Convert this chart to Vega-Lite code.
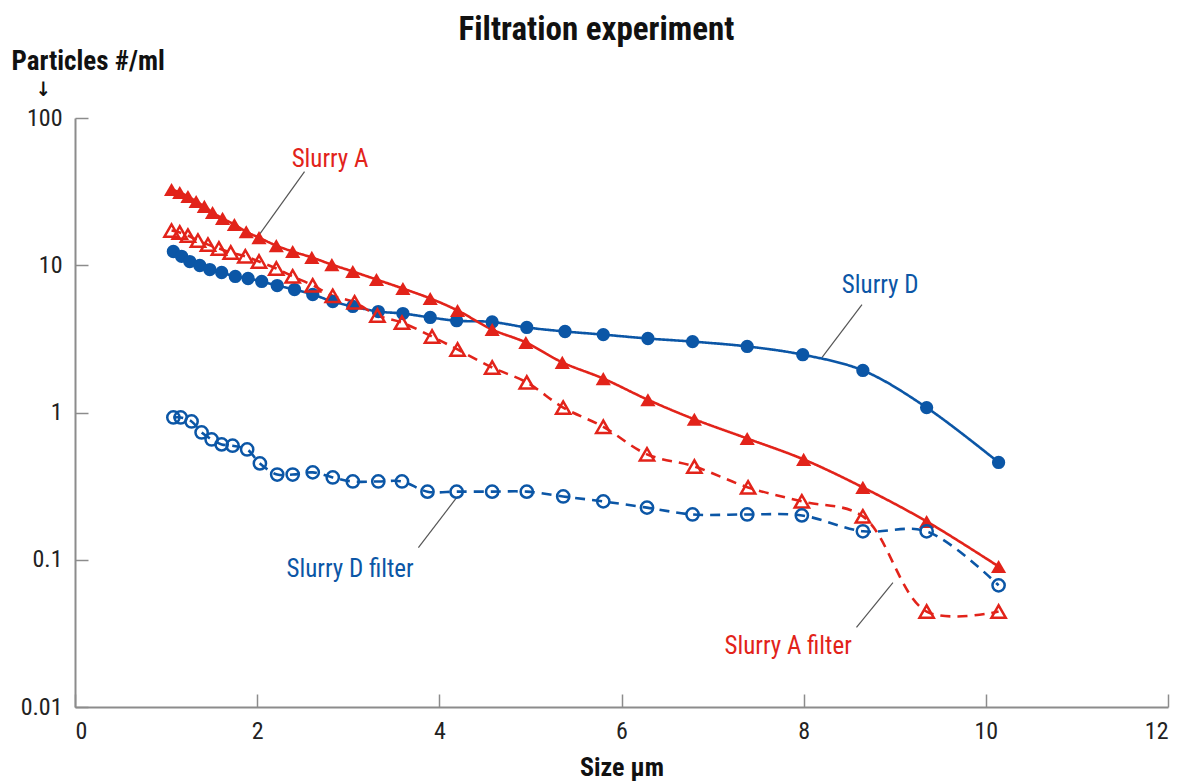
{
  "$schema": "https://vega.github.io/schema/vega-lite/v6.json",
  "width": 1093,
  "height": 589,
  "autosize": {"type": "none"},
  "padding": {"left": 75, "top": 118, "right": 14, "bottom": 74},
  "background": "white",
  "title": {
    "text": "Filtration experiment",
    "font": "Roboto Condensed, DejaVu Sans Condensed, Roboto, sans-serif",
    "fontSize": 33,
    "fontWeight": "bold",
    "color": "#111",
    "anchor": "middle",
    "dx": -25,
    "offset": 0
  },
  "config": {
    "view": {"stroke": null},
    "font": "Roboto Condensed, DejaVu Sans Condensed, Roboto, sans-serif"
  },
  "datasets": {
    "pts": [
      {"series": "Slurry D", "size": 1.08, "count": 12.4},
      {"series": "Slurry D", "size": 1.17, "count": 11.5},
      {"series": "Slurry D", "size": 1.26, "count": 10.6},
      {"series": "Slurry D", "size": 1.37, "count": 9.96},
      {"series": "Slurry D", "size": 1.48, "count": 9.35},
      {"series": "Slurry D", "size": 1.61, "count": 8.93},
      {"series": "Slurry D", "size": 1.76, "count": 8.39},
      {"series": "Slurry D", "size": 1.9, "count": 8.13},
      {"series": "Slurry D", "size": 2.05, "count": 7.76},
      {"series": "Slurry D", "size": 2.22, "count": 7.28},
      {"series": "Slurry D", "size": 2.41, "count": 6.84},
      {"series": "Slurry D", "size": 2.61, "count": 6.33},
      {"series": "Slurry D", "size": 2.83, "count": 5.67},
      {"series": "Slurry D", "size": 3.05, "count": 5.25},
      {"series": "Slurry D", "size": 3.33, "count": 4.85},
      {"series": "Slurry D", "size": 3.6, "count": 4.7},
      {"series": "Slurry D", "size": 3.9, "count": 4.42},
      {"series": "Slurry D", "size": 4.19, "count": 4.2},
      {"series": "Slurry D", "size": 4.58, "count": 4.12},
      {"series": "Slurry D", "size": 4.96, "count": 3.78},
      {"series": "Slurry D", "size": 5.38, "count": 3.55},
      {"series": "Slurry D", "size": 5.8, "count": 3.38},
      {"series": "Slurry D", "size": 6.29, "count": 3.18},
      {"series": "Slurry D", "size": 6.78, "count": 3.03},
      {"series": "Slurry D", "size": 7.38, "count": 2.81},
      {"series": "Slurry D", "size": 7.99, "count": 2.47},
      {"series": "Slurry D", "size": 8.65, "count": 1.93},
      {"series": "Slurry D", "size": 9.35, "count": 1.08},
      {"series": "Slurry D", "size": 10.14, "count": 0.458},

      {"series": "Slurry A", "size": 1.06, "count": 32.7},
      {"series": "Slurry A", "size": 1.15, "count": 31.2},
      {"series": "Slurry A", "size": 1.24, "count": 29.3},
      {"series": "Slurry A", "size": 1.33, "count": 27.1},
      {"series": "Slurry A", "size": 1.42, "count": 25.1},
      {"series": "Slurry A", "size": 1.51, "count": 22.8},
      {"series": "Slurry A", "size": 1.62, "count": 20.8},
      {"series": "Slurry A", "size": 1.75, "count": 18.9},
      {"series": "Slurry A", "size": 1.88, "count": 16.9},
      {"series": "Slurry A", "size": 2.02, "count": 15.4},
      {"series": "Slurry A", "size": 2.21, "count": 13.6},
      {"series": "Slurry A", "size": 2.39, "count": 12.4},
      {"series": "Slurry A", "size": 2.6, "count": 11.3},
      {"series": "Slurry A", "size": 2.82, "count": 10.1},
      {"series": "Slurry A", "size": 3.05, "count": 9.07},
      {"series": "Slurry A", "size": 3.31, "count": 8.0},
      {"series": "Slurry A", "size": 3.6, "count": 6.95},
      {"series": "Slurry A", "size": 3.9, "count": 5.95},
      {"series": "Slurry A", "size": 4.2, "count": 4.93},
      {"series": "Slurry A", "size": 4.58, "count": 3.66},
      {"series": "Slurry A", "size": 4.95, "count": 2.99},
      {"series": "Slurry A", "size": 5.35, "count": 2.19},
      {"series": "Slurry A", "size": 5.8, "count": 1.7},
      {"series": "Slurry A", "size": 6.29, "count": 1.22},
      {"series": "Slurry A", "size": 6.8, "count": 0.9},
      {"series": "Slurry A", "size": 7.38, "count": 0.666},
      {"series": "Slurry A", "size": 8.0, "count": 0.48},
      {"series": "Slurry A", "size": 8.65, "count": 0.31},
      {"series": "Slurry A", "size": 9.35, "count": 0.182},
      {"series": "Slurry A", "size": 10.14, "count": 0.09},

      {"series": "Slurry A filter", "size": 1.06, "count": 17.2},
      {"series": "Slurry A filter", "size": 1.15, "count": 16.7},
      {"series": "Slurry A filter", "size": 1.24, "count": 15.9},
      {"series": "Slurry A filter", "size": 1.35, "count": 14.7},
      {"series": "Slurry A filter", "size": 1.46, "count": 13.8},
      {"series": "Slurry A filter", "size": 1.58, "count": 13.0},
      {"series": "Slurry A filter", "size": 1.71, "count": 12.2},
      {"series": "Slurry A filter", "size": 1.87, "count": 11.5},
      {"series": "Slurry A filter", "size": 2.02, "count": 10.6},
      {"series": "Slurry A filter", "size": 2.21, "count": 9.5},
      {"series": "Slurry A filter", "size": 2.39, "count": 8.4},
      {"series": "Slurry A filter", "size": 2.61, "count": 7.3},
      {"series": "Slurry A filter", "size": 2.83, "count": 6.2},
      {"series": "Slurry A filter", "size": 3.07, "count": 5.6},
      {"series": "Slurry A filter", "size": 3.32, "count": 4.56},
      {"series": "Slurry A filter", "size": 3.59, "count": 4.08},
      {"series": "Slurry A filter", "size": 3.92, "count": 3.28},
      {"series": "Slurry A filter", "size": 4.2, "count": 2.68},
      {"series": "Slurry A filter", "size": 4.58, "count": 2.02},
      {"series": "Slurry A filter", "size": 4.96, "count": 1.6},
      {"series": "Slurry A filter", "size": 5.36, "count": 1.08},
      {"series": "Slurry A filter", "size": 5.8, "count": 0.8},
      {"series": "Slurry A filter", "size": 6.28, "count": 0.52},
      {"series": "Slurry A filter", "size": 6.8, "count": 0.43},
      {"series": "Slurry A filter", "size": 7.39, "count": 0.31},
      {"series": "Slurry A filter", "size": 7.98, "count": 0.249},
      {"series": "Slurry A filter", "size": 8.65, "count": 0.197},
      {"series": "Slurry A filter", "size": 9.35, "count": 0.0445},
      {"series": "Slurry A filter", "size": 10.14, "count": 0.0445},

      {"series": "Slurry D filter", "size": 1.08, "count": 0.925},
      {"series": "Slurry D filter", "size": 1.16, "count": 0.925},
      {"series": "Slurry D filter", "size": 1.28, "count": 0.869},
      {"series": "Slurry D filter", "size": 1.39, "count": 0.732},
      {"series": "Slurry D filter", "size": 1.5, "count": 0.656},
      {"series": "Slurry D filter", "size": 1.61, "count": 0.607},
      {"series": "Slurry D filter", "size": 1.73, "count": 0.595},
      {"series": "Slurry D filter", "size": 1.89, "count": 0.561},
      {"series": "Slurry D filter", "size": 2.03, "count": 0.451},
      {"series": "Slurry D filter", "size": 2.22, "count": 0.379},
      {"series": "Slurry D filter", "size": 2.39, "count": 0.379},
      {"series": "Slurry D filter", "size": 2.61, "count": 0.392},
      {"series": "Slurry D filter", "size": 2.83, "count": 0.362},
      {"series": "Slurry D filter", "size": 3.05, "count": 0.34},
      {"series": "Slurry D filter", "size": 3.33, "count": 0.34},
      {"series": "Slurry D filter", "size": 3.59, "count": 0.34},
      {"series": "Slurry D filter", "size": 3.87, "count": 0.29},
      {"series": "Slurry D filter", "size": 4.19, "count": 0.29},
      {"series": "Slurry D filter", "size": 4.58, "count": 0.29},
      {"series": "Slurry D filter", "size": 4.96, "count": 0.29},
      {"series": "Slurry D filter", "size": 5.36, "count": 0.269},
      {"series": "Slurry D filter", "size": 5.8, "count": 0.249},
      {"series": "Slurry D filter", "size": 6.28, "count": 0.226},
      {"series": "Slurry D filter", "size": 6.78, "count": 0.203},
      {"series": "Slurry D filter", "size": 7.38, "count": 0.203},
      {"series": "Slurry D filter", "size": 7.98, "count": 0.2},
      {"series": "Slurry D filter", "size": 8.65, "count": 0.156},
      {"series": "Slurry D filter", "size": 9.35, "count": 0.156},
      {"series": "Slurry D filter", "size": 10.14, "count": 0.067}
    ],
    "labels": [
      {"series": "Slurry A", "label": "Slurry A", "lx": 2.8, "ly": 52.3},
      {"series": "Slurry D", "label": "Slurry D", "lx": 8.84, "ly": 7.29},
      {"series": "Slurry D filter", "label": "Slurry D filter", "lx": 3.02, "ly": 0.0859},
      {"series": "Slurry A filter", "label": "Slurry A filter", "lx": 7.83, "ly": 0.0258}
    ],
    "arrow": [
      {"label": "\u2193", "ax": -0.35, "ay": 156}
    ],
    "leaders": [
      {"x1": 2.01, "y1": 15.7, "x2": 2.52, "y2": 43.3},
      {"x1": 8.2, "y1": 2.36, "x2": 8.64, "y2": 5.41},
      {"x1": 4.2, "y1": 0.269, "x2": 3.77, "y2": 0.121},
      {"x1": 8.98, "y1": 0.07, "x2": 8.58, "y2": 0.0347}
    ]
  },
  "layer": [
    {
      "data": {"name": "leaders"},
      "mark": {"type": "rule", "color": "#555555", "strokeWidth": 1.2},
      "encoding": {
        "x": {"field": "x1", "type": "quantitative", "scale": {"domain": [0, 12], "nice": false}},
        "y": {"field": "y1", "type": "quantitative", "scale": {"type": "log", "domain": [0.01, 100]}},
        "x2": {"field": "x2"},
        "y2": {"field": "y2"}
      }
    },
    {
      "data": {"name": "pts"},
      "mark": {"type": "line", "interpolate": "catmull-rom", "strokeWidth": 2.6},
      "encoding": {
        "x": {
          "field": "size", "type": "quantitative",
          "scale": {"domain": [0, 12], "nice": false},
          "axis": {
            "title": "Size µm",
            "titleFontSize": 26,
            "titleFontWeight": "bold",
            "titleColor": "#111",
            "titlePadding": 11,
            "values": [0, 2, 4, 6, 8, 10, 12],
            "format": "d",
            "labelFontSize": 24,
            "labelColor": "#222",
            "labelPadding": 25,
            "domainColor": "#8c8c8c",
            "domainWidth": 2,
            "tickColor": "#8c8c8c",
            "tickWidth": 1.5,
            "tickSize": -13,
            "grid": false
          }
        },
        "y": {
          "field": "count", "type": "quantitative",
          "scale": {"type": "log", "domain": [0.01, 100]},
          "axis": {
            "title": "Particles #/ml",
            "titleFontSize": 27,
            "titleFontWeight": "bold",
            "titleColor": "#111",
            "titleAngle": 0,
            "titleAlign": "left",
            "titleBaseline": "top",
            "titleX": -64,
            "titleY": -70,
            "values": [0.01, 0.1, 1, 10, 100],
            "format": "~g",
            "labelFontSize": 24,
            "labelColor": "#222",
            "labelPadding": 26,
            "domainColor": "#8c8c8c",
            "domainWidth": 2,
            "tickColor": "#8c8c8c",
            "tickWidth": 1.5,
            "tickSize": -13,
            "grid": false
          }
        },
        "color": {
          "field": "series", "type": "nominal",
          "scale": {"domain": ["Slurry A", "Slurry A filter", "Slurry D", "Slurry D filter"], "range": ["#e2231a", "#e2231a", "#0b56a6", "#0b56a6"]},
          "legend": null
        },
        "strokeDash": {
          "field": "series", "type": "nominal",
          "scale": {"domain": ["Slurry A", "Slurry A filter", "Slurry D", "Slurry D filter"], "range": [[1, 0], [10, 7], [1, 0], [10, 7]]},
          "legend": null
        }
      }
    },
    {
      "data": {"name": "pts"},
      "transform": [{"filter": "datum.series === 'Slurry A' || datum.series === 'Slurry D'"}],
      "mark": {"type": "point", "filled": true, "opacity": 1},
      "encoding": {
        "x": {"field": "size", "type": "quantitative"},
        "y": {"field": "count", "type": "quantitative"},
        "color": {"field": "series", "type": "nominal", "legend": null},
        "shape": {
          "field": "series", "type": "nominal",
          "scale": {"domain": ["Slurry A", "Slurry A filter", "Slurry D", "Slurry D filter"], "range": ["triangle-up", "triangle-up", "circle", "circle"]},
          "legend": null
        },
        "size": {
          "field": "series", "type": "nominal",
          "scale": {"domain": ["Slurry A", "Slurry A filter", "Slurry D", "Slurry D filter"], "range": [230, 150, 240, 130]},
          "legend": null
        }
      }
    },
    {
      "data": {"name": "pts"},
      "transform": [{"filter": "datum.series === 'Slurry A filter' || datum.series === 'Slurry D filter'"}],
      "mark": {"type": "point", "filled": false, "strokeWidth": 2.5, "opacity": 1},
      "encoding": {
        "x": {"field": "size", "type": "quantitative"},
        "y": {"field": "count", "type": "quantitative"},
        "color": {"field": "series", "type": "nominal", "legend": null},
        "shape": {"field": "series", "type": "nominal", "legend": null},
        "size": {"field": "series", "type": "nominal", "legend": null}
      }
    },
    {
      "data": {"name": "labels"},
      "mark": {"type": "text", "fontSize": 25, "align": "center", "baseline": "middle"},
      "encoding": {
        "x": {"field": "lx", "type": "quantitative"},
        "y": {"field": "ly", "type": "quantitative"},
        "text": {"field": "label"},
        "color": {"field": "series", "type": "nominal", "legend": null}
      }
    },
    {
      "data": {"name": "arrow"},
      "mark": {"type": "text", "fontSize": 20, "fontWeight": "bold", "color": "#111", "align": "center", "baseline": "middle"},
      "encoding": {
        "x": {"field": "ax", "type": "quantitative"},
        "y": {"field": "ay", "type": "quantitative"},
        "text": {"field": "label"}
      }
    }
  ]
}
